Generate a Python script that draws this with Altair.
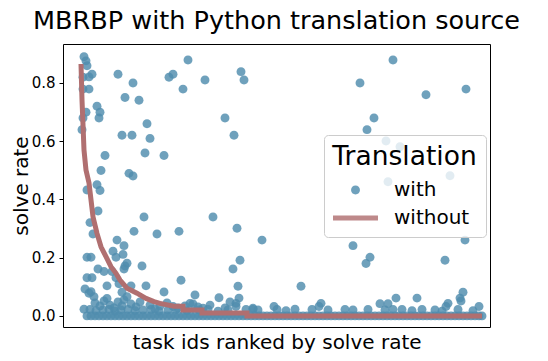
import altair as alt
import pandas as pd

TITLE = "MBRBP with Python translation source"
X_TITLE = "task ids ranked by solve rate"
Y_TITLE = "solve rate"
LEGEND_TITLE = "Translation"
SERIES = ["with", "without"]
Y_TICKS = [0.0, 0.2, 0.4, 0.6, 0.8]

BLUE = "#4f8cad"
RED = "#b06f70"
CIRCLE_PATH = "M-1,0A1,1,0,1,1,1,0A1,1,0,1,1,-1,0Z"
LINE_PATH = "M-5.03,-0.56L5.03,-0.56L5.03,0.56L-5.03,0.56Z"

# "with translation" solve rates (rank of task, solve rate) - scattered points
with_rank = [3, 5, 6, 11, 8, 2, 37, 52, 88, 92, 107, 124, 102, 2, 8, 44, 58, 16, 19, 5,
             18, 2, 66, 1, 41, 51, 69, 64, 83, 24, 20, 48, 52, 16, 19, 6, 17, 63, 132, 9,
             12, 53, 76, 98, 36, 43, 32, 42, 6, 10, 35, 46, 44, 61, 17, 23, 31, 43, 6, 11,
             35, 100, 26, 38, 50, 65, 4, 10, 41, 83, 114, 138, 3, 160, 163, 144, 153, 312, 279, 345,
             385, 293, 286, 305, 319, 369, 307, 156, 181, 159, 152, 157, 158, 155, 155, 220, 272, 289, 285, 384,
             364, 382, 379, 380, 367, 365, 398, 336, 315, 299, 307, 240, 238, 193, 214, 109, 112, 92, 172, 122,
             8, 13, 43, 46, 26]
with_rate = [0.889, 0.875, 0.858, 0.829, 0.820, 0.819, 0.829, 0.799, 0.819, 0.829, 0.878, 0.809, 0.778, 0.778, 0.778, 0.749, 0.740, 0.719, 0.699, 0.699,
             0.679, 0.679, 0.659, 0.639, 0.620, 0.620, 0.609, 0.559, 0.550, 0.550, 0.499, 0.489, 0.480, 0.450, 0.430, 0.432, 0.360, 0.339, 0.339, 0.320,
             0.281, 0.290, 0.281, 0.290, 0.260, 0.241, 0.222, 0.211, 0.201, 0.201, 0.201, 0.181, 0.171, 0.171, 0.161, 0.152, 0.152, 0.161, 0.131, 0.131,
             0.131, 0.122, 0.103, 0.110, 0.103, 0.103, 0.092, 0.083, 0.081, 0.082, 0.072, 0.062, 0.023, 0.838, 0.809, 0.679, 0.620, 0.878, 0.799, 0.759,
             0.778, 0.679, 0.639, 0.600, 0.580, 0.481, 0.460, 0.301, 0.260, 0.191, 0.161, 0.102, 0.061, 0.043, 0.032, 0.102, 0.241, 0.201, 0.180, 0.260,
             0.191, 0.081, 0.061, 0.051, 0.043, 0.032, 0.032, 0.061, 0.061, 0.042, 0.042, 0.043, 0.032, 0.032, 0.023, 0.043, 0.041, 0.032, 0.026, 0.026,
             0.078, 0.066, 0.055, 0.066, 0.060]

# dense cluster of small solve rates near the left
cluster_rank = [14, 19, 23, 29, 33, 37, 41, 50, 55, 59, 69, 74, 79, 86, 97, 104, 117, 129, 144, 149]
cluster_rate = [0.044, 0.034, 0.051, 0.037, 0.027, 0.048, 0.034, 0.041, 0.031, 0.048, 0.037, 0.024, 0.034, 0.044, 0.027, 0.034, 0.031, 0.037, 0.027, 0.048]

# tasks with a very small solve rate
low_rank = [9, 15, 22, 28, 34, 40, 47, 54, 62, 70, 78, 87, 95, 106, 118, 127, 137, 147, 165, 172,
            177, 196, 205, 231, 247, 264, 272, 287, 304, 312, 321, 331, 341, 354, 361, 377, 392]
low_rate = [0.022, 0.018, 0.020, 0.022, 0.016, 0.020, 0.022, 0.018, 0.020, 0.022, 0.016, 0.020, 0.022, 0.018, 0.020, 0.022, 0.016, 0.020, 0.022, 0.022,
            0.020, 0.022, 0.018, 0.022, 0.020, 0.022, 0.020, 0.022, 0.020, 0.022, 0.022, 0.018, 0.022, 0.020, 0.016, 0.022, 0.018]

# tasks with solve rate 0 under translation
zero_rank = [6, 10, 14, 18, 22, 26, 30, 34, 38, 42, 46, 50, 54, 58, 62, 66, 70, 74, 78, 82,
             86, 90, 94, 98, 102, 106, 110, 114, 118, 122, 126, 130, 134, 138, 142, 146, 150, 154, 158, 162,
             166, 170, 174, 178, 182, 186, 190, 194, 198, 202, 206, 210, 214, 218, 222, 226, 230, 234, 238, 242,
             246, 250, 254, 258, 262, 266, 270, 274, 278, 282, 286, 290, 294, 298, 302, 306, 310, 314, 318, 322,
             326, 330, 334, 338, 342, 346, 350, 354, 358, 362, 366, 370, 374, 378, 382, 386, 390, 394, 398, 401]
zero_rate = [0.0] * len(zero_rank)

# "without translation" solve rate curve (sorted)
without_rank = [0, 1, 2, 3, 5, 8, 10, 12, 16, 20, 25, 30, 35, 39, 46, 56, 65, 73, 79, 93,
                102, 102, 121, 121, 166, 166, 401]
without_rate = [0.864, 0.741, 0.655, 0.569, 0.500, 0.456, 0.398, 0.340, 0.283, 0.237, 0.203, 0.169, 0.146, 0.123, 0.095, 0.078, 0.060, 0.049, 0.043, 0.033,
                0.033, 0.020, 0.020, 0.010, 0.010, 0.0, 0.0]

all_rank = with_rank + cluster_rank + low_rank + zero_rank
all_rate = with_rate + cluster_rate + low_rate + zero_rate
pts = pd.DataFrame({"rank": all_rank, "rate": all_rate, "Translation": ["with"] * len(all_rank)})
line_df = pd.DataFrame({"rank": without_rank, "rate": without_rate, "idx": list(range(len(without_rank)))})

xscale = alt.Scale(domain=[-18, 409], nice=False, zero=False)
yscale = alt.Scale(domain=[-0.0381, 0.9328], nice=False, zero=False)

legend = alt.Legend(
    title=LEGEND_TITLE, orient="none", legendX=261, legendY=91,
    titleFontSize=26.5, titleFontWeight="normal", titleColor="black",
    titleAnchor="middle", titleAlign="center", titlePadding=10,
    labelFontSize=20, labelColor="black", symbolSize=80, symbolOffset=5,
    labelOffset=28.5, rowPadding=8, padding=8.5,
    fillColor="rgba(255,255,255,0.8)", strokeColor="#cccccc", cornerRadius=4,
    symbolStrokeWidth=0,
)

points = alt.Chart(pts).mark_point(filled=True, size=80, opacity=0.82, strokeWidth=0).encode(
    x=alt.X("rank:Q", scale=xscale, axis=alt.Axis(
        title=X_TITLE, labels=False, ticks=False, domain=False, grid=False,
        titleFontSize=20, titleFontWeight="normal", titleColor="black", titlePadding=5)),
    y=alt.Y("rate:Q", scale=yscale, axis=alt.Axis(
        title=Y_TITLE, values=Y_TICKS, format=".1f", grid=False, domain=False,
        tickSize=4, tickColor="black", tickWidth=1, labelFontSize=15, labelColor="black",
        labelPadding=4, titleFontSize=20, titleFontWeight="normal", titleColor="black",
        titlePadding=0)),
    color=alt.Color("Translation:N", scale=alt.Scale(domain=SERIES, range=[BLUE, RED]), legend=legend),
    shape=alt.Shape("Translation:N", scale=alt.Scale(domain=SERIES, range=[CIRCLE_PATH, LINE_PATH]), legend=legend),
)

line = alt.Chart(line_df).mark_line(color=RED, strokeWidth=5).encode(
    x=alt.X("rank:Q", scale=xscale),
    y=alt.Y("rate:Q", scale=yscale),
    order=alt.Order("idx:Q"),
)

chart = alt.layer(points, line).properties(
    width=427, height=283,
    title=alt.Title(TITLE, fontSize=25.5, fontWeight="normal", color="black",
                    anchor="middle", frame="group", offset=10),
    padding={"left": 55, "top": 36, "right": 50, "bottom": 26},
    autosize="none",
).configure(font="DejaVu Sans").configure_view(stroke="black", strokeWidth=1)

chart.save("out.html", embed_options={"renderer": "svg", "actions": False})
